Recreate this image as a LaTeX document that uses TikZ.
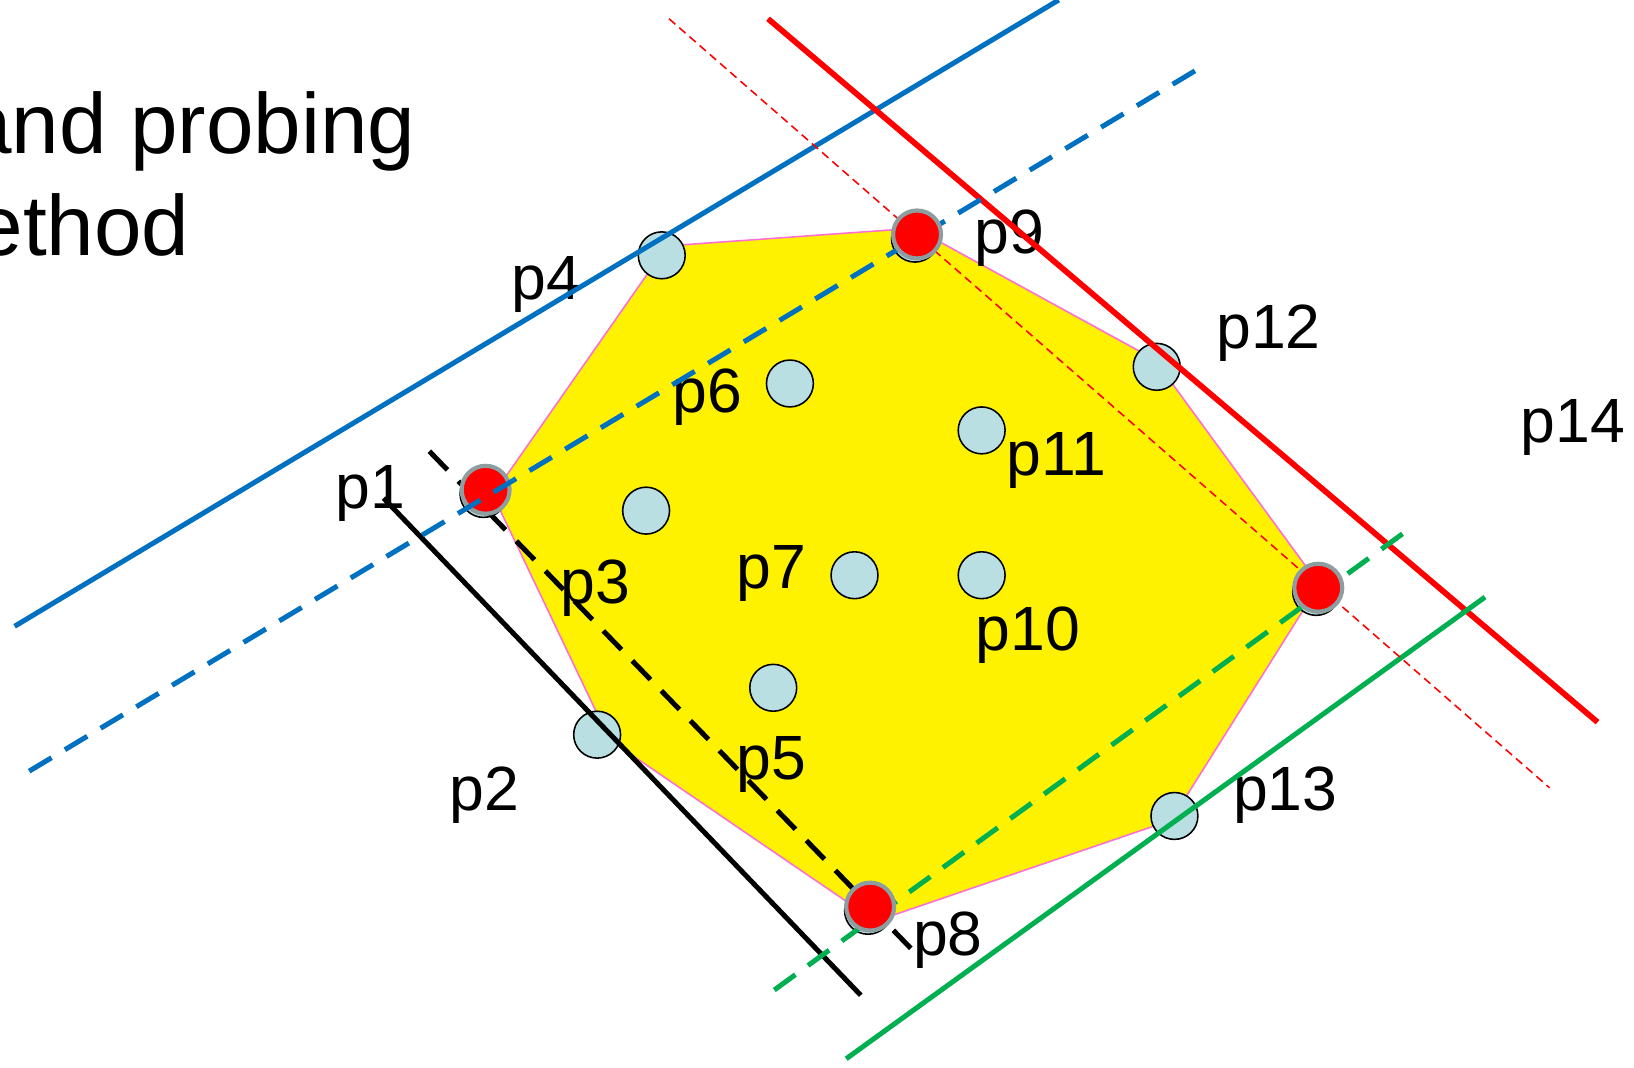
\documentclass[tikz,border=0pt]{standalone}
\usepackage{fontspec}
\setmainfont{Liberation Sans}
\definecolor{ltblue}{RGB}{185,223,227}
\definecolor{ringgray}{RGB}{140,158,160}
\definecolor{hullpink}{RGB}{255,110,210}
\definecolor{lnblue}{RGB}{0,112,192}
\definecolor{lngreen}{RGB}{0,176,80}
\definecolor{lnred}{RGB}{255,0,0}
\begin{document}
\begin{tikzpicture}[x=1pt,y=-1pt]
\tikzset{
  lightpt/.style={circle, minimum size=45pt, inner sep=0pt, fill=ltblue, draw=black, line width=1.5pt},
  redpt/.style={circle, minimum size=46pt, inner sep=0pt, fill=lnred, draw=ringgray, line width=4pt},
  lab/.style={anchor=base west, inner sep=0pt, font=\fontsize{60}{72}\selectfont},
  titletext/.style={anchor=base east, inner sep=0pt, font=\fontsize{82}{98}\selectfont},
  hullshape/.style={fill=yellow, draw=hullpink, line width=1.5pt},
  solidln/.style={line width=4.8pt},
  dashln/.style={line width=4.8pt, dash pattern=on 25pt off 15pt},
  thindash/.style={line width=1.5pt, dash pattern=on 8pt off 5pt},
}
\useasboundingbox (0,0) rectangle (1568,1024);

% hull
\draw[hullshape] (473,475) -- (640,236) -- (878,219) -- (1108,345) -- (1266,561)
  -- (1124,787) -- (840,884) -- (585,710) -- cycle;

% original circles under the red points
\node[lightpt] (p1b) at (464,474) {};
\node[lightpt] (p9b) at (878,229) {};
\node[lightpt] (prb) at (1263,568) {};
\node[lightpt] (p8b) at (833,874) {};

% light points
\node[lightpt] (p4) at (635,245) {};
\node[lightpt] (p12) at (1110,352) {};
\node[lightpt] (p13) at (1127,783) {};
\node[lightpt] (p2) at (573,705) {};
\node[lightpt] (p6) at (758,368) {};
\node[lightpt] (p11) at (942,413) {};
\node[lightpt] (p3) at (620,490) {};
\node[lightpt] (p7) at (820,552) {};
\node[lightpt] (p10) at (942,552) {};
\node[lightpt] (p5) at (742,660) {};

% title (cut off at the left edge, as in the reference)
\node[titletext] (t1) at (399,147) {and probing};
\node[titletext] (t2) at (182,245) {ethod};

% labels
\node[lab] (l1) at (322,488) {p1};
\node[lab] (l2) at (431,778) {p2};
\node[lab] (l3) at (538,579) {p3};
\node[lab] (l4) at (491,287) {p4};
\node[lab] (l5) at (707,748) {p5};
\node[lab] (l6) at (645,396) {p6};
\node[lab] (l7) at (707,565) {p7};
\node[lab] (l8) at (876,917) {p8};
\node[lab] (l9) at (935,243) {p9};
\node[lab] (l10) at (936,624) {p10};
\node[lab] (l11) at (966,456) {p11};
\node[lab] (l12) at (1167,334) {p12};
\node[lab] (l13) at (1183,778) {p13};
\node[lab] (l14) at (1459,425) {p14};

% line end points
\coordinate (bsA) at (14,601);   \coordinate (bsB) at (1016,0);
\coordinate (bdA) at (28,740);   \coordinate (bdB) at (1150,66);
\coordinate (rsA) at (737,18);   \coordinate (rsB) at (1533,693);
\coordinate (rdA) at (642,18);   \coordinate (rdB) at (1487,756);
\coordinate (gsA) at (812,1016); \coordinate (gsB) at (1425,573);
\coordinate (gdA) at (743,950);  \coordinate (gdB) at (1349,510);
\coordinate (ksA) at (368,478);  \coordinate (ksB) at (826,955);
\coordinate (kdA) at (412,433);  \coordinate (kdB) at (874,910);

% lines
\draw[solidln, lnblue] (bsA) -- (bsB);
\draw[solidln, lnred, line width=5.5pt] (rsA) -- (rsB);
\draw[solidln, lngreen] (gsA) -- (gsB);
\draw[solidln, black] (ksA) -- (ksB);
\draw[thindash, lnred] (rdA) -- (rdB);
\draw[dashln, black] (kdA) -- (kdB);
\draw[dashln, lngreen] (gdA) -- (gdB);

% red (chosen) points
\node[redpt] (p8) at (835,870) {};
\node[redpt] (pr) at (1265,564) {};
\node[redpt] (p1) at (466,470) {};
\draw[dashln, lnblue] (bdA) -- (bdB);
\node[redpt] (p9) at (880,225) {};
\end{tikzpicture}
\end{document}
